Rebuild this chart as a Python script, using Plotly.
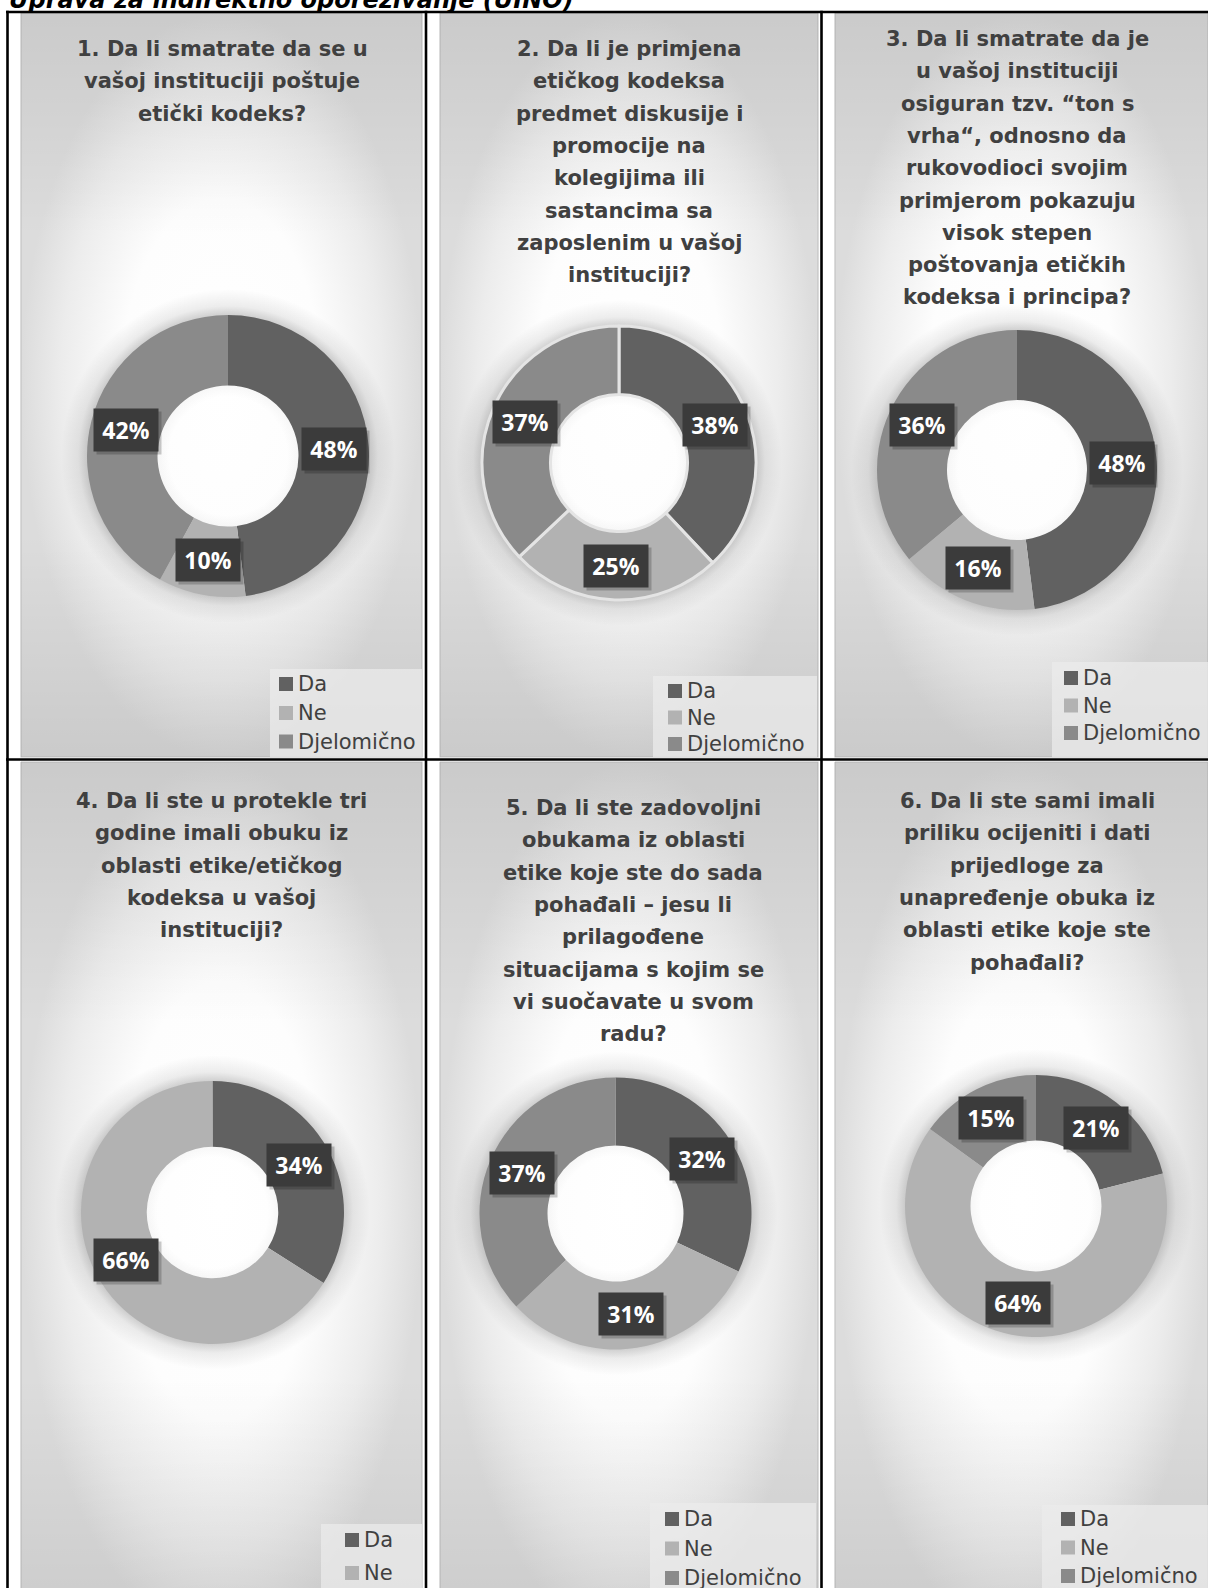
import math
import plotly.graph_objects as go

W, H = 1208, 1588

# ---------------- data ----------------
categories = ["Da", "Ne", "Djelomično"]
slice_colors = ["#616161", "#b2b2b2", "#8a8a8a"]

q1_values = [48, 10, 42]
q2_values = [38, 25, 37]
q3_values = [48, 16, 36]
q4_values = [34, 66]
q5_values = [32, 31, 37]
q6_values = [21, 64, 15]

q1_title = ["1. Da li smatrate da se u", "vašoj instituciji poštuje", "etički kodeks?"]
q2_title = ["2. Da li je primjena", "etičkog kodeksa", "predmet diskusije i", "promocije na",
            "kolegijima ili", "sastancima sa", "zaposlenim u vašoj", "instituciji?"]
q3_title = ["3. Da li smatrate da je", "u vašoj instituciji", "osiguran tzv. “ton s",
            "vrha“, odnosno da", "rukovodioci svojim", "primjerom pokazuju", "visok stepen",
            "poštovanja etičkih", "kodeksa i principa?"]
q4_title = ["4. Da li ste u protekle tri", "godine imali obuku iz", "oblasti etike/etičkog",
            "kodeksa u vašoj", "instituciji?"]
q5_title = ["5. Da li ste zadovoljni", "obukama iz oblasti", "etike koje ste do sada",
            "pohađali – jesu li", "prilagođene", "situacijama s kojim se",
            "vi suočavate u svom", "radu?"]
q6_title = ["6. Da li ste sami imali", "priliku ocijeniti i dati", "prijedloge za",
            "unapređenje obuka iz", "oblasti etike koje ste", "pohađali?"]

header_text = "Uprava za indirektno oporezivanje (UINO)"

# ---------------- layout of the six panels (pixels) ----------------
panels = [
    dict(values=q1_values, title=q1_title, box=(21, 13, 422, 757), c=(228, 456), r=141,
         tx=222, ty=49, sep=False,
         leg_box=(270, 669, 422, 757), leg_x=279, leg_rows=[684, 713, 741.5]),
    dict(values=q2_values, title=q2_title, box=(440, 13, 818, 757), c=(619, 463), r=137,
         tx=629, ty=49, sep=True,
         leg_box=(653, 676, 817, 757), leg_x=668, leg_rows=[691, 717.5, 744]),
    dict(values=q3_values, title=q3_title, box=(835, 13, 1208, 757), c=(1017, 470), r=140,
         tx=1017, ty=39, sep=False,
         leg_box=(1052, 662, 1208, 757), leg_x=1064, leg_rows=[678, 705.5, 733]),
    dict(values=q4_values, title=q4_title, box=(21, 762, 422, 1640), c=(212.5, 1212.5), r=131.5,
         tx=221, ty=801, sep=False,
         leg_box=(321, 1524, 422, 1640), leg_x=345, leg_rows=[1540, 1573]),
    dict(values=q5_values, title=q5_title, box=(440, 762, 818, 1640), c=(615.5, 1213.5), r=136,
         tx=633, ty=808, sep=False,
         leg_box=(650, 1503, 816, 1640), leg_x=665, leg_rows=[1519, 1548.5, 1578]),
    dict(values=q6_values, title=q6_title, box=(835, 762, 1208, 1640), c=(1036, 1206), r=131,
         tx=1027, ty=801, sep=False,
         leg_box=(1042, 1505, 1208, 1640), leg_x=1061, leg_rows=[1519, 1547.5, 1576]),
]
LINE_PITCH = 32.3

fig = go.Figure()
annotations = []
shapes = []

# panel backgrounds: radial gradient + vertical darkening toward top / bottom
for p in panels:
    x0, y0, x1, y1 = p["box"]
    fig.add_trace(go.Scatter(
        x=[x0, x1, x1, x0, x0], y=[y0, y0, y1, y1, y0], mode="lines",
        line=dict(color="#c4c4c4", width=1.2), fill="toself",
        fillgradient=dict(type="radial",
                          colorscale=[[0, "#ffffff"], [0.5, "#fdfdfd"], [0.8, "#ececec"],
                                      [1, "#dcdcdc"]]),
        hoverinfo="skip", showlegend=False))
    fig.add_trace(go.Scatter(
        x=[x0, x1, x1, x0, x0], y=[y0, y0, y1, y1, y0], mode="lines",
        line=dict(width=0, color="rgba(0,0,0,0)"), fill="toself",
        fillgradient=dict(type="vertical",
                          colorscale=[[0, "rgba(0,0,0,0.08)"], [0.3, "rgba(0,0,0,0)"],
                                      [0.7, "rgba(0,0,0,0)"], [1, "rgba(0,0,0,0.08)"]]),
        hoverinfo="skip", showlegend=False))

# soft shadow ring behind each donut
for p in panels:
    cx, cy = p["c"]
    r = p["r"]
    R = r + 26
    n = 181
    xs = [cx + R * math.cos(2 * math.pi * k / (n - 1)) for k in range(n)]
    ys = [cy + R * math.sin(2 * math.pi * k / (n - 1)) for k in range(n)]
    fig.add_trace(go.Scatter(
        x=xs, y=ys, mode="lines", line=dict(width=0, color="rgba(0,0,0,0)"), fill="toself",
        fillgradient=dict(type="radial",
                          colorscale=[[0, "rgba(0,0,0,0)"], [0.42 * r / R, "rgba(0,0,0,0)"],
                                      [0.5 * r / R, "rgba(0,0,0,0.03)"],
                                      [r / R, "rgba(0,0,0,0.18)"],
                                      [(r + 9) / R, "rgba(0,0,0,0.07)"],
                                      [1, "rgba(0,0,0,0)"]]),
        hoverinfo="skip", showlegend=False))

# donuts
for i, p in enumerate(panels):
    cx, cy = p["c"]
    r = p["r"]
    vals = p["values"]
    labs = categories[:len(vals)]
    fig.add_trace(go.Pie(
        labels=labs, values=vals, hole=0.5, sort=False, direction="clockwise", rotation=0,
        marker=dict(colors=slice_colors[:len(vals)],
                    line=dict(color="#e4e4e4", width=3 if p["sep"] else 0)),
        textinfo="none", hoverinfo="label+percent",
        domain=dict(x=[(cx - r) / W, (cx + r) / W], y=[1 - (cy + r) / H, 1 - (cy - r) / H]),
        showlegend=False))

    # data labels at the middle of the ring, at the mid-angle of each slice
    total = sum(vals)
    cum = 0
    for v in vals:
        theta = 2 * math.pi * (cum + v / 2) / total
        cum += v
        lx = cx + 0.75 * r * math.sin(theta)
        ly = cy - 0.75 * r * math.cos(theta)
        txt = f"{round(100 * v / total)}%"
        annotations.append(dict(x=lx, y=ly, xref="x", yref="y", text="", showarrow=False,
                                width=64, height=42, bgcolor="rgba(0,0,0,0.20)", borderpad=0,
                                xshift=3, yshift=-3))
        annotations.append(dict(x=lx, y=ly, xref="x", yref="y", text=f"<b>{txt}</b>",
                                showarrow=False, width=64, height=42, bgcolor="#3b3b3b",
                                borderpad=0, align="center", valign="middle",
                                font=dict(family="Open Sans", size=23, color="#ffffff")))

    # title lines
    for k, line in enumerate(p["title"]):
        annotations.append(dict(x=p["tx"], y=p["ty"] + k * LINE_PITCH, xref="x", yref="y",
                                text=f"<b>{line}</b>", showarrow=False, xanchor="center",
                                yanchor="middle",
                                font=dict(family="DejaVu Sans", size=21, color="#404040")))

    # legend box with one entry per category of this chart
    bx0, by0, bx1, by1 = p["leg_box"]
    shapes.append(dict(type="rect", xref="x", yref="y", x0=bx0, x1=bx1, y0=by0, y1=by1,
                       fillcolor="rgba(236,236,236,0.72)", line=dict(width=0), layer="above"))
    for k, lab in enumerate(labs):
        ry = p["leg_rows"][k]
        sx = p["leg_x"]
        shapes.append(dict(type="rect", xref="x", yref="y", x0=sx, x1=sx + 14,
                           y0=ry - 7, y1=ry + 7, fillcolor=slice_colors[k],
                           line=dict(width=0), layer="above"))
        annotations.append(dict(x=sx + 18, y=ry, xref="x", yref="y", text=lab, showarrow=False,
                                xanchor="left", yanchor="middle", borderpad=0,
                                font=dict(family="DejaVu Sans", size=21, color="#404040")))

# header (cut off at the top of the page)
annotations.append(dict(x=8, y=15, xref="x", yref="y", text=f"<b><i>{header_text}</i></b>",
                        showarrow=False, xanchor="left", yanchor="bottom", borderpad=0,
                        font=dict(family="DejaVu Sans", size=24, color="#000000")))

# table borders
border = dict(type="line", xref="x", yref="y", line=dict(color="#000000", width=2.6),
              layer="above")
shapes.append({**border, "x0": 6, "x1": W, "y0": 12, "y1": 12})
shapes.append({**border, "x0": 7.5, "x1": 7.5, "y0": 10.7, "y1": H})
shapes.append({**border, "x0": 426, "x1": 426, "y0": 10.7, "y1": H})
shapes.append({**border, "x0": 821.5, "x1": 821.5, "y0": 10.7, "y1": H})
shapes.append({**border, "x0": 6, "x1": W, "y0": 759.5, "y1": 759.5})

fig.update_layout(
    width=W, height=H, autosize=False, showlegend=False,
    margin=dict(l=0, r=0, t=0, b=0, pad=0),
    paper_bgcolor="#ffffff", plot_bgcolor="rgba(0,0,0,0)",
    xaxis=dict(range=[0, W], visible=False, fixedrange=True),
    yaxis=dict(range=[H, 0], visible=False, fixedrange=True),
    annotations=annotations, shapes=shapes,
)

fig.write_html("out.html")
